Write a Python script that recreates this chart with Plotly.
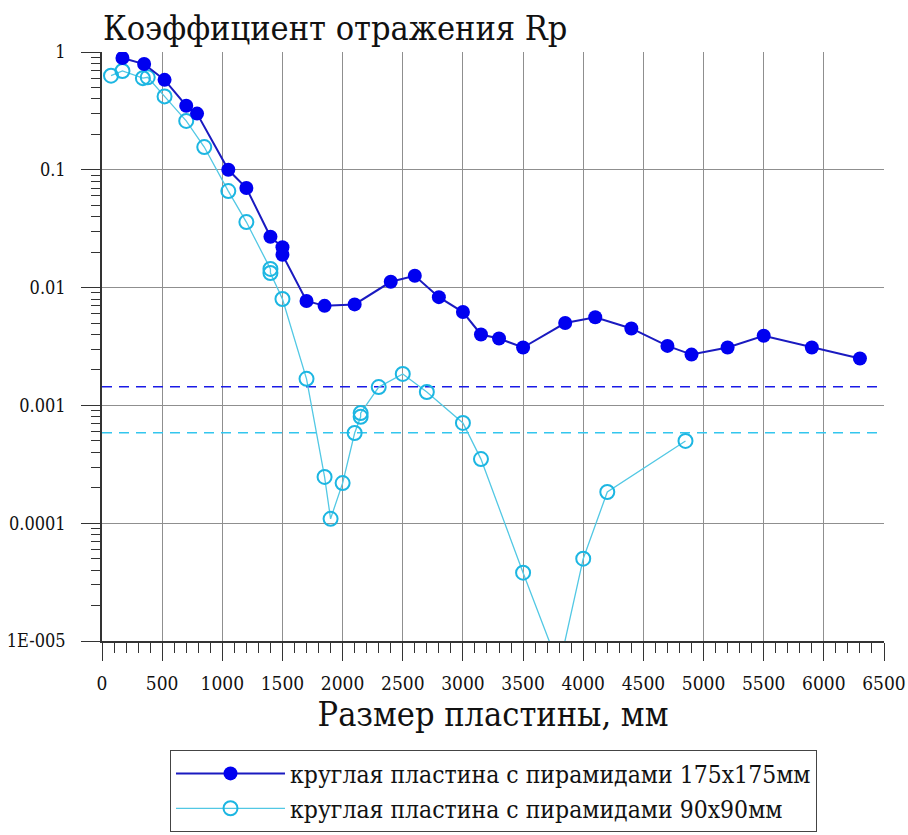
import plotly.graph_objects as go

# ---- data ----
x_175 = [170, 350, 520, 700, 790, 1050, 1200, 1400, 1500, 1500, 1700, 1850, 2100, 2400, 2600,
         2800, 3000, 3150, 3300, 3500, 3850, 4100, 4400, 4700, 4900, 5200, 5500, 5900, 6300]
y_175 = [0.89, 0.79, 0.58, 0.35, 0.30, 0.10, 0.070, 0.027, 0.022, 0.019, 0.0077, 0.0070, 0.0072,
         0.0112, 0.0126, 0.0083, 0.0062, 0.0040, 0.0037, 0.0031, 0.0050, 0.0056, 0.0045, 0.0032,
         0.0027, 0.0031, 0.0039, 0.0031, 0.0025]

x_90 = [75, 170, 340, 380, 520, 700, 850, 1050, 1200, 1400, 1400, 1500, 1700, 1850, 1900, 2000,
        2100, 2150, 2150, 2300, 2500, 2700, 3000, 3150, 3500, 3800, 4000, 4200, 4850]
y_90 = [0.63, 0.69, 0.60, 0.61, 0.42, 0.26, 0.156, 0.066, 0.036, 0.0144, 0.0133, 0.0080, 0.00168,
        0.000247, 0.000109, 0.000219, 0.000583, 0.00080, 0.00086, 0.00143, 0.00185, 0.0013,
        0.00071, 0.00035, 3.8e-5, 6e-6, 5.0e-5, 0.000184, 0.000499]

level_x = [0, 6500]
level_175 = 0.00144
level_90 = 0.000586

y_tickvals = [1, 0.1, 0.01, 0.001, 0.0001, 0.00001]
y_ticktext = ["1", "0.1", "0.01", "0.001", "0.0001", "1E-005"]
x_tickvals = list(range(0, 6501, 500))

name_175 = "круглая пластина с пирамидами 175x175мм"
name_90 = "круглая пластина с пирамидами 90x90мм"

FONT = "DejaVu Serif Condensed, DejaVu Serif, serif"
BLUE_M = "#0000f0"
BLUE_L = "#1a1ac0"
CYAN_M = "#1cb6e2"
CYAN_L = "#52c8e4"

fig = go.Figure()

fig.add_trace(go.Scatter(x=level_x, y=[level_175] * len(level_x), mode="lines",
                         line=dict(color="#1a1ae6", width=1.6, dash="10px,7px"),
                         showlegend=False, hoverinfo="skip"))
fig.add_trace(go.Scatter(x=level_x, y=[level_90] * len(level_x), mode="lines",
                         line=dict(color="#33c6ee", width=1.6, dash="10px,7px"),
                         showlegend=False, hoverinfo="skip"))

fig.add_trace(go.Scatter(x=x_90, y=y_90, mode="lines+markers", name=name_90,
                         line=dict(color=CYAN_L, width=1.3),
                         marker=dict(symbol="circle-open", size=14, color=CYAN_M,
                                     line=dict(width=2, color=CYAN_M))))
fig.add_trace(go.Scatter(x=x_175, y=y_175, mode="lines+markers", name=name_175,
                         line=dict(color=BLUE_L, width=2),
                         marker=dict(symbol="circle", size=14, color=BLUE_M)))

fig.update_layout(
    width=908, height=835,
    margin=dict(l=102, r=24, t=52, b=194, autoexpand=False),
    paper_bgcolor="white", plot_bgcolor="white",
    font=dict(family=FONT, color="#111111", size=19),
    title=dict(text="Коэффициент отражения Rр", x=103 / 908, xref="container",
               xanchor="left", y=1 - 28 / 835, yref="container", yanchor="middle",
               font=dict(family=FONT, size=34, color="#111111")),
    showlegend=True,
    legend=dict(x=170 / 908, y=1 - 750 / 835, xref="container", yref="container",
                xanchor="left", yanchor="top",
                traceorder="reversed", bordercolor="#444444", borderwidth=1,
                font=dict(family=FONT, size=24.5, color="#111111"),
                itemwidth=109, bgcolor="white"),
)

fig.update_xaxes(
    range=[0, 6500], tickvals=x_tickvals, ticktext=[str(v) for v in x_tickvals],
    showgrid=True, gridcolor="#8f8f8f", gridwidth=1,
    showline=True, linecolor="#333333", linewidth=1.5,
    ticks="outside", ticklen=18, tickcolor="#333333", tickwidth=1.2,
    ticklabelstandoff=6,
    minor=dict(dtick=100, ticks="outside", ticklen=10, tickcolor="#333333",
               tickwidth=1.2, showgrid=False),
    zeroline=False,
    title=dict(text="Размер пластины, мм", font=dict(family=FONT, size=34, color="#111111"),
               standoff=10),
    tickfont=dict(family=FONT, size=19, color="#111111"),
)
fig.update_yaxes(
    type="log", range=[-5, 0], tickvals=y_tickvals, ticktext=y_ticktext,
    showgrid=True, gridcolor="#8f8f8f", gridwidth=1,
    showline=True, linecolor="#333333", linewidth=1.5,
    ticks="outside", ticklen=19, tickcolor="#333333", tickwidth=1.2,
    ticklabelstandoff=12,
    minor=dict(dtick="D1", ticks="outside", ticklen=9, tickcolor="#333333",
               tickwidth=1.2, showgrid=False),
    zeroline=False,
    tickfont=dict(family=FONT, size=18, color="#111111"),
)

fig.write_html("out.html")
